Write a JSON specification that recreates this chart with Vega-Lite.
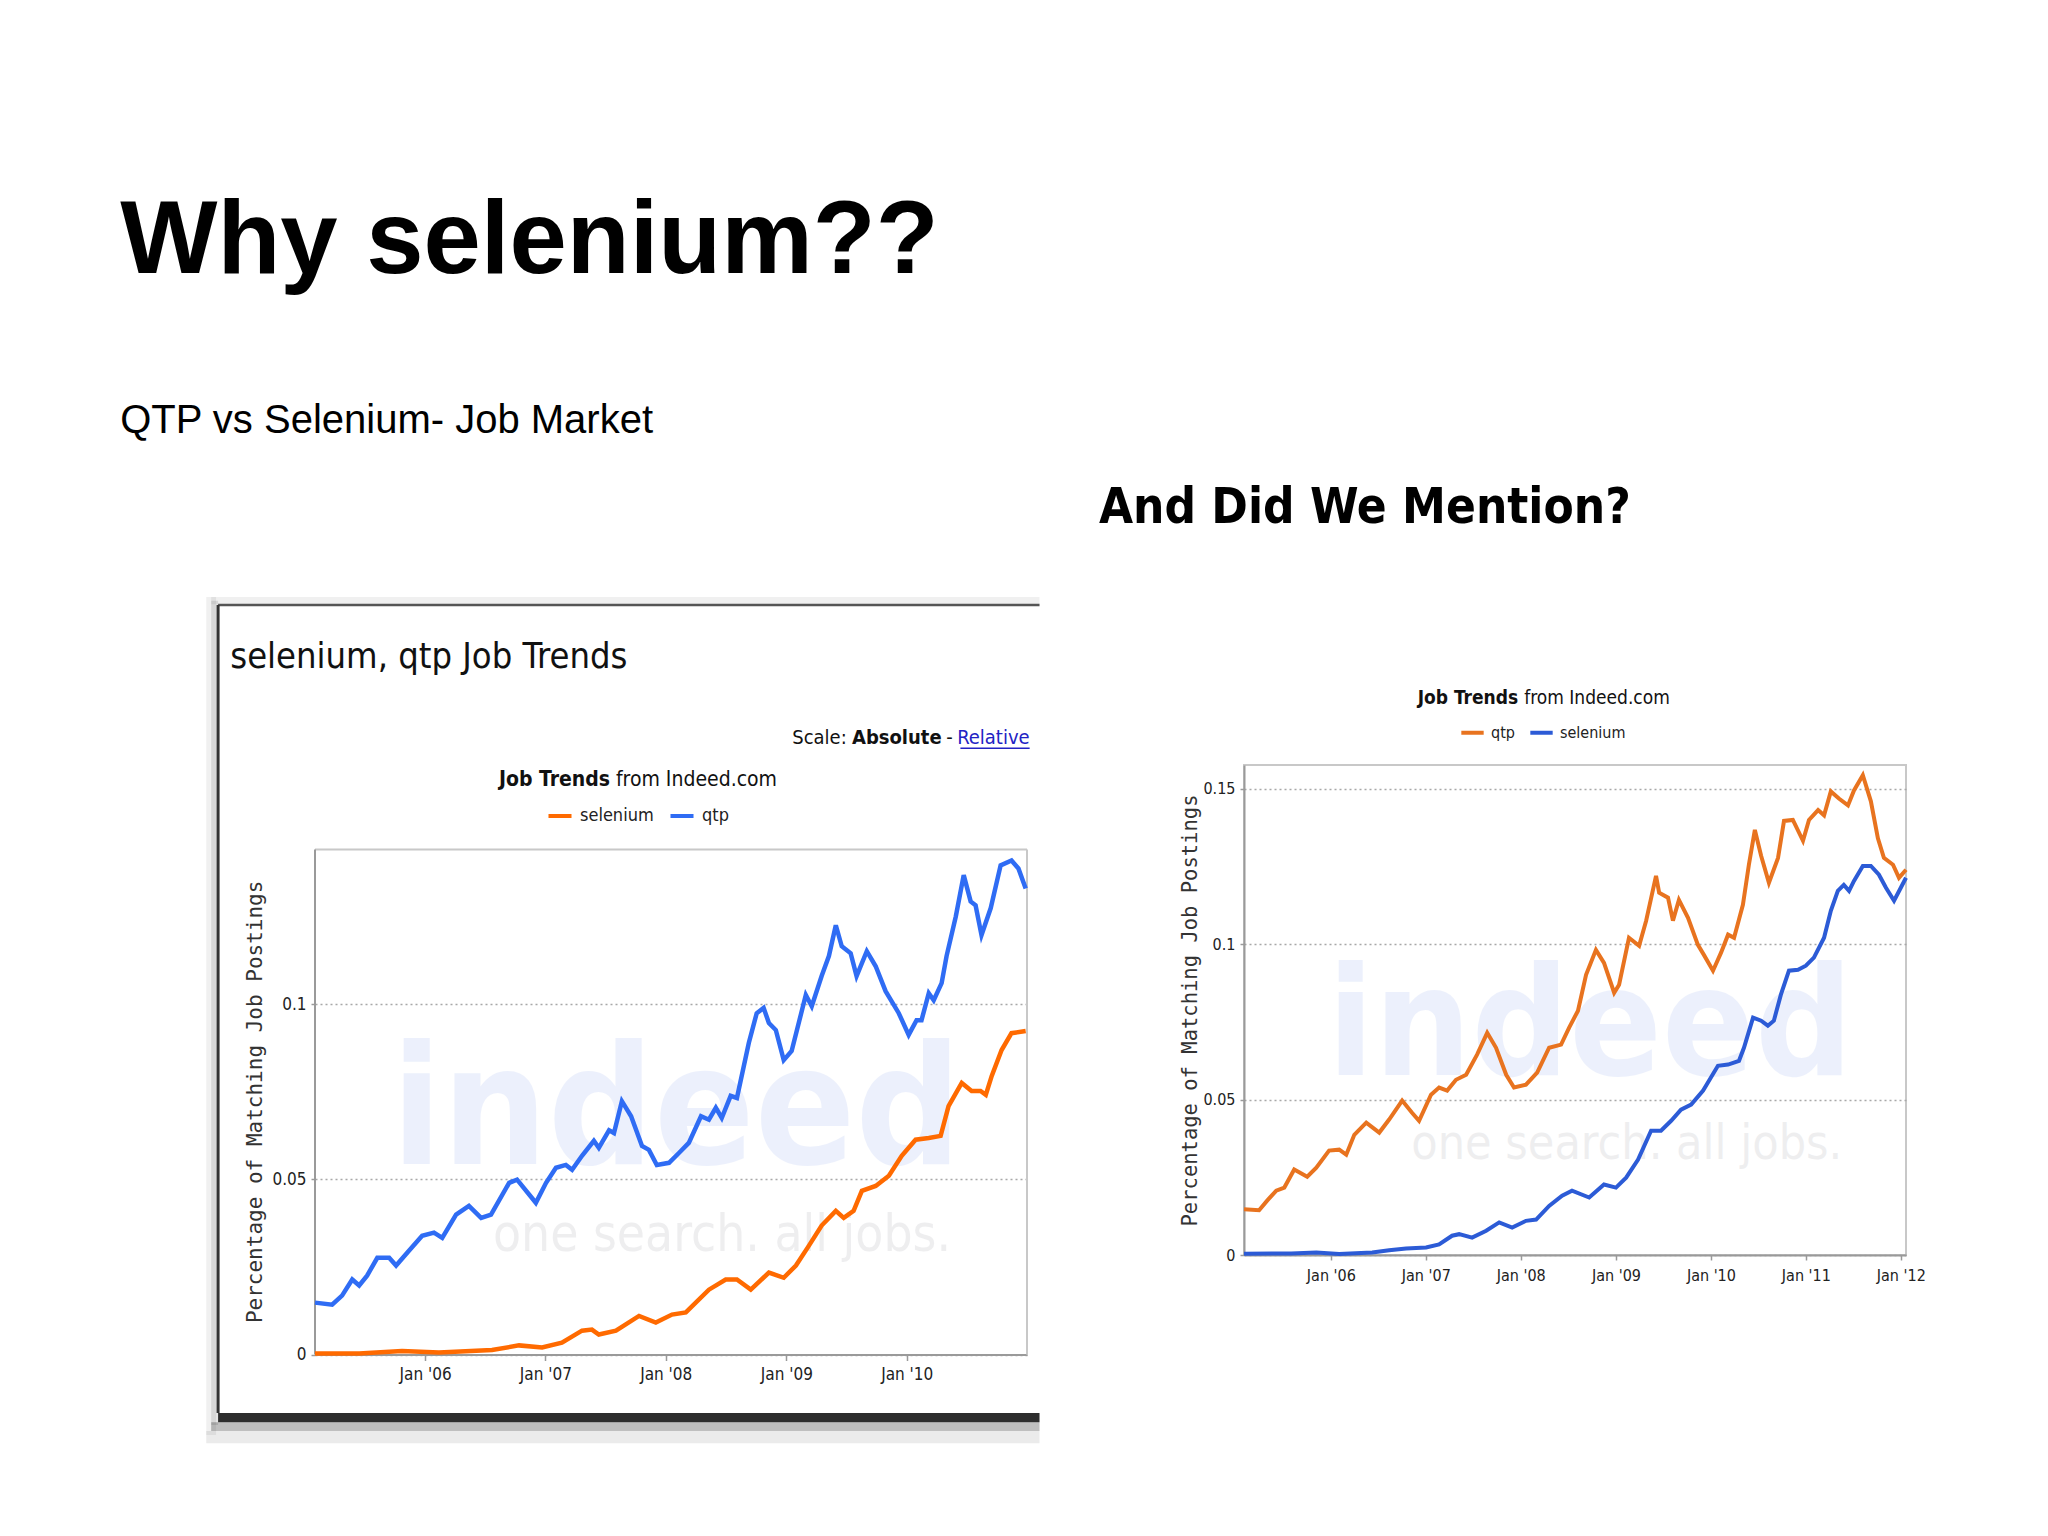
{
  "$schema": "https://vega.github.io/schema/vega-lite/v6.json",
  "background": "white",
  "padding": {"left": 120, "top": 191, "right": 0, "bottom": 0},
  "title": {
    "text": "Why selenium??",
    "subtitle": "QTP vs Selenium- Job Market",
    "anchor": "start",
    "frame": "bounds",
    "font": "Liberation Sans",
    "fontWeight": "bold",
    "fontSize": 103,
    "color": "#000000",
    "subtitleFont": "Liberation Sans",
    "subtitleFontSize": 40,
    "subtitleColor": "#000000",
    "subtitlePadding": 106,
    "offset": 41,
    "dx": -86
  },
  "datasets": {
    "leftData": [
      {"date": "2005-02-01", "series": "qtp", "value": 0.0148},
      {"date": "2005-03-25", "series": "qtp", "value": 0.0142},
      {"date": "2005-04-24", "series": "qtp", "value": 0.0168},
      {"date": "2005-05-25", "series": "qtp", "value": 0.0214},
      {"date": "2005-06-15", "series": "qtp", "value": 0.0197},
      {"date": "2005-07-09", "series": "qtp", "value": 0.0225},
      {"date": "2005-08-09", "series": "qtp", "value": 0.0276},
      {"date": "2005-09-14", "series": "qtp", "value": 0.0276},
      {"date": "2005-10-05", "series": "qtp", "value": 0.0254},
      {"date": "2005-11-13", "series": "qtp", "value": 0.0296},
      {"date": "2005-12-23", "series": "qtp", "value": 0.0339},
      {"date": "2006-01-28", "series": "qtp", "value": 0.0348},
      {"date": "2006-02-22", "series": "qtp", "value": 0.0333},
      {"date": "2006-04-05", "series": "qtp", "value": 0.0399},
      {"date": "2006-05-14", "series": "qtp", "value": 0.0424},
      {"date": "2006-06-20", "series": "qtp", "value": 0.039},
      {"date": "2006-07-20", "series": "qtp", "value": 0.0399},
      {"date": "2006-09-13", "series": "qtp", "value": 0.049},
      {"date": "2006-10-07", "series": "qtp", "value": 0.0499},
      {"date": "2006-12-03", "series": "qtp", "value": 0.0433},
      {"date": "2007-01-03", "series": "qtp", "value": 0.049},
      {"date": "2007-02-02", "series": "qtp", "value": 0.0533},
      {"date": "2007-03-04", "series": "qtp", "value": 0.0541},
      {"date": "2007-03-23", "series": "qtp", "value": 0.0527},
      {"date": "2007-04-22", "series": "qtp", "value": 0.0567},
      {"date": "2007-05-28", "series": "qtp", "value": 0.061},
      {"date": "2007-06-12", "series": "qtp", "value": 0.059},
      {"date": "2007-07-13", "series": "qtp", "value": 0.064},
      {"date": "2007-07-28", "series": "qtp", "value": 0.0632},
      {"date": "2007-08-21", "series": "qtp", "value": 0.0723},
      {"date": "2007-09-18", "series": "qtp", "value": 0.068},
      {"date": "2007-10-21", "series": "qtp", "value": 0.0595},
      {"date": "2007-11-11", "series": "qtp", "value": 0.0584},
      {"date": "2007-12-05", "series": "qtp", "value": 0.0541},
      {"date": "2008-01-11", "series": "qtp", "value": 0.0547},
      {"date": "2008-02-10", "series": "qtp", "value": 0.0575},
      {"date": "2008-03-11", "series": "qtp", "value": 0.0604},
      {"date": "2008-04-17", "series": "qtp", "value": 0.068},
      {"date": "2008-05-11", "series": "qtp", "value": 0.067},
      {"date": "2008-06-01", "series": "qtp", "value": 0.0704},
      {"date": "2008-06-19", "series": "qtp", "value": 0.0675},
      {"date": "2008-07-16", "series": "qtp", "value": 0.0738},
      {"date": "2008-08-04", "series": "qtp", "value": 0.0732},
      {"date": "2008-09-09", "series": "qtp", "value": 0.0889},
      {"date": "2008-10-03", "series": "qtp", "value": 0.0974},
      {"date": "2008-10-24", "series": "qtp", "value": 0.0989},
      {"date": "2008-11-09", "series": "qtp", "value": 0.0946},
      {"date": "2008-11-30", "series": "qtp", "value": 0.0926},
      {"date": "2008-12-24", "series": "qtp", "value": 0.084},
      {"date": "2009-01-17", "series": "qtp", "value": 0.0866},
      {"date": "2009-03-01", "series": "qtp", "value": 0.1026},
      {"date": "2009-03-19", "series": "qtp", "value": 0.0994},
      {"date": "2009-04-18", "series": "qtp", "value": 0.108},
      {"date": "2009-05-10", "series": "qtp", "value": 0.1137},
      {"date": "2009-05-31", "series": "qtp", "value": 0.1225},
      {"date": "2009-06-18", "series": "qtp", "value": 0.1165},
      {"date": "2009-07-15", "series": "qtp", "value": 0.1145},
      {"date": "2009-08-02", "series": "qtp", "value": 0.108},
      {"date": "2009-09-02", "series": "qtp", "value": 0.1151},
      {"date": "2009-09-29", "series": "qtp", "value": 0.1108},
      {"date": "2009-10-29", "series": "qtp", "value": 0.1037},
      {"date": "2009-12-08", "series": "qtp", "value": 0.0974},
      {"date": "2010-01-07", "series": "qtp", "value": 0.0912},
      {"date": "2010-01-31", "series": "qtp", "value": 0.0954},
      {"date": "2010-02-15", "series": "qtp", "value": 0.0954},
      {"date": "2010-03-09", "series": "qtp", "value": 0.1031},
      {"date": "2010-03-24", "series": "qtp", "value": 0.1011},
      {"date": "2010-04-17", "series": "qtp", "value": 0.106},
      {"date": "2010-05-02", "series": "qtp", "value": 0.1137},
      {"date": "2010-05-30", "series": "qtp", "value": 0.125},
      {"date": "2010-06-23", "series": "qtp", "value": 0.1368},
      {"date": "2010-07-14", "series": "qtp", "value": 0.1293},
      {"date": "2010-07-29", "series": "qtp", "value": 0.1282},
      {"date": "2010-08-16", "series": "qtp", "value": 0.1197},
      {"date": "2010-09-13", "series": "qtp", "value": 0.1274},
      {"date": "2010-10-13", "series": "qtp", "value": 0.1396},
      {"date": "2010-11-15", "series": "qtp", "value": 0.141},
      {"date": "2010-12-06", "series": "qtp", "value": 0.1387},
      {"date": "2010-12-28", "series": "qtp", "value": 0.133},
      {"date": "2005-02-01", "series": "selenium", "value": 0.0003},
      {"date": "2005-06-15", "series": "selenium", "value": 0.0003},
      {"date": "2005-10-23", "series": "selenium", "value": 0.001},
      {"date": "2006-02-12", "series": "selenium", "value": 0.0006},
      {"date": "2006-07-23", "series": "selenium", "value": 0.0013},
      {"date": "2006-10-13", "series": "selenium", "value": 0.0026},
      {"date": "2006-12-22", "series": "selenium", "value": 0.002},
      {"date": "2007-02-20", "series": "selenium", "value": 0.0034},
      {"date": "2007-04-22", "series": "selenium", "value": 0.0068},
      {"date": "2007-05-22", "series": "selenium", "value": 0.0071},
      {"date": "2007-06-12", "series": "selenium", "value": 0.0057},
      {"date": "2007-08-03", "series": "selenium", "value": 0.0068},
      {"date": "2007-10-12", "series": "selenium", "value": 0.011},
      {"date": "2007-12-02", "series": "selenium", "value": 0.0091},
      {"date": "2008-01-20", "series": "selenium", "value": 0.0114},
      {"date": "2008-03-02", "series": "selenium", "value": 0.012},
      {"date": "2008-05-11", "series": "selenium", "value": 0.0185},
      {"date": "2008-07-01", "series": "selenium", "value": 0.0214},
      {"date": "2008-08-04", "series": "selenium", "value": 0.0214},
      {"date": "2008-09-15", "series": "selenium", "value": 0.0185},
      {"date": "2008-11-09", "series": "selenium", "value": 0.0234},
      {"date": "2008-12-24", "series": "selenium", "value": 0.0219},
      {"date": "2009-01-30", "series": "selenium", "value": 0.0254},
      {"date": "2009-03-10", "series": "selenium", "value": 0.031},
      {"date": "2009-04-18", "series": "selenium", "value": 0.0368},
      {"date": "2009-05-31", "series": "selenium", "value": 0.041},
      {"date": "2009-06-24", "series": "selenium", "value": 0.039},
      {"date": "2009-07-24", "series": "selenium", "value": 0.041},
      {"date": "2009-08-18", "series": "selenium", "value": 0.0467},
      {"date": "2009-09-29", "series": "selenium", "value": 0.0481},
      {"date": "2009-11-08", "series": "selenium", "value": 0.051},
      {"date": "2009-12-17", "series": "selenium", "value": 0.0567},
      {"date": "2010-01-28", "series": "selenium", "value": 0.0613},
      {"date": "2010-03-09", "series": "selenium", "value": 0.0618},
      {"date": "2010-04-14", "series": "selenium", "value": 0.0624},
      {"date": "2010-05-08", "series": "selenium", "value": 0.0709},
      {"date": "2010-06-17", "series": "selenium", "value": 0.0775},
      {"date": "2010-07-17", "series": "selenium", "value": 0.0752},
      {"date": "2010-08-13", "series": "selenium", "value": 0.0752},
      {"date": "2010-08-29", "series": "selenium", "value": 0.0741},
      {"date": "2010-09-16", "series": "selenium", "value": 0.0795},
      {"date": "2010-10-16", "series": "selenium", "value": 0.0869},
      {"date": "2010-11-15", "series": "selenium", "value": 0.0917},
      {"date": "2010-12-28", "series": "selenium", "value": 0.0923}
    ],
    "rightData": [
      {"date": "2005-02-01", "series": "qtp", "value": 0.0147},
      {"date": "2005-03-31", "series": "qtp", "value": 0.0144},
      {"date": "2005-05-01", "series": "qtp", "value": 0.0175},
      {"date": "2005-06-05", "series": "qtp", "value": 0.0207},
      {"date": "2005-07-06", "series": "qtp", "value": 0.0217},
      {"date": "2005-08-13", "series": "qtp", "value": 0.0275},
      {"date": "2005-10-02", "series": "qtp", "value": 0.0252},
      {"date": "2005-11-06", "series": "qtp", "value": 0.0281},
      {"date": "2005-12-25", "series": "qtp", "value": 0.0336},
      {"date": "2006-02-02", "series": "qtp", "value": 0.0339},
      {"date": "2006-03-01", "series": "qtp", "value": 0.0323},
      {"date": "2006-04-01", "series": "qtp", "value": 0.0387},
      {"date": "2006-05-17", "series": "qtp", "value": 0.0426},
      {"date": "2006-07-06", "series": "qtp", "value": 0.0394},
      {"date": "2006-08-13", "series": "qtp", "value": 0.0436},
      {"date": "2006-10-02", "series": "qtp", "value": 0.0497},
      {"date": "2006-11-09", "series": "qtp", "value": 0.0458},
      {"date": "2006-12-06", "series": "qtp", "value": 0.0432},
      {"date": "2007-01-21", "series": "qtp", "value": 0.0516},
      {"date": "2007-02-21", "series": "qtp", "value": 0.0539},
      {"date": "2007-03-24", "series": "qtp", "value": 0.0529},
      {"date": "2007-04-27", "series": "qtp", "value": 0.0564},
      {"date": "2007-06-05", "series": "qtp", "value": 0.058},
      {"date": "2007-07-17", "series": "qtp", "value": 0.0645},
      {"date": "2007-08-25", "series": "qtp", "value": 0.0715},
      {"date": "2007-09-28", "series": "qtp", "value": 0.0667},
      {"date": "2007-11-06", "series": "qtp", "value": 0.058},
      {"date": "2007-12-06", "series": "qtp", "value": 0.0539},
      {"date": "2008-01-21", "series": "qtp", "value": 0.0548},
      {"date": "2008-03-04", "series": "qtp", "value": 0.0587},
      {"date": "2008-04-19", "series": "qtp", "value": 0.0667},
      {"date": "2008-06-04", "series": "qtp", "value": 0.0677},
      {"date": "2008-07-05", "series": "qtp", "value": 0.0732},
      {"date": "2008-08-08", "series": "qtp", "value": 0.0786},
      {"date": "2008-09-08", "series": "qtp", "value": 0.0902},
      {"date": "2008-10-16", "series": "qtp", "value": 0.0982},
      {"date": "2008-11-16", "series": "qtp", "value": 0.094},
      {"date": "2008-12-25", "series": "qtp", "value": 0.0844},
      {"date": "2009-01-13", "series": "qtp", "value": 0.087},
      {"date": "2009-02-20", "series": "qtp", "value": 0.1021},
      {"date": "2009-03-31", "series": "qtp", "value": 0.0995},
      {"date": "2009-04-27", "series": "qtp", "value": 0.1076},
      {"date": "2009-06-04", "series": "qtp", "value": 0.122},
      {"date": "2009-06-16", "series": "qtp", "value": 0.1166},
      {"date": "2009-07-20", "series": "qtp", "value": 0.115},
      {"date": "2009-08-08", "series": "qtp", "value": 0.1076},
      {"date": "2009-08-31", "series": "qtp", "value": 0.1143},
      {"date": "2009-10-05", "series": "qtp", "value": 0.1085},
      {"date": "2009-11-12", "series": "qtp", "value": 0.0998},
      {"date": "2009-12-05", "series": "qtp", "value": 0.0966},
      {"date": "2010-01-09", "series": "qtp", "value": 0.0915},
      {"date": "2010-02-09", "series": "qtp", "value": 0.0973},
      {"date": "2010-03-08", "series": "qtp", "value": 0.1031},
      {"date": "2010-03-31", "series": "qtp", "value": 0.1021},
      {"date": "2010-05-04", "series": "qtp", "value": 0.1127},
      {"date": "2010-05-27", "series": "qtp", "value": 0.1256},
      {"date": "2010-06-19", "series": "qtp", "value": 0.1368},
      {"date": "2010-07-13", "series": "qtp", "value": 0.1285},
      {"date": "2010-08-12", "series": "qtp", "value": 0.1198},
      {"date": "2010-09-16", "series": "qtp", "value": 0.1278},
      {"date": "2010-10-09", "series": "qtp", "value": 0.1397},
      {"date": "2010-11-12", "series": "qtp", "value": 0.14},
      {"date": "2010-12-21", "series": "qtp", "value": 0.1333},
      {"date": "2011-01-13", "series": "qtp", "value": 0.14},
      {"date": "2011-02-17", "series": "qtp", "value": 0.1432},
      {"date": "2011-03-12", "series": "qtp", "value": 0.1415},
      {"date": "2011-04-07", "series": "qtp", "value": 0.1492},
      {"date": "2011-05-08", "series": "qtp", "value": 0.1469},
      {"date": "2011-06-12", "series": "qtp", "value": 0.1447},
      {"date": "2011-07-05", "series": "qtp", "value": 0.1495},
      {"date": "2011-08-08", "series": "qtp", "value": 0.1544},
      {"date": "2011-09-08", "series": "qtp", "value": 0.146},
      {"date": "2011-10-05", "series": "qtp", "value": 0.1341},
      {"date": "2011-10-28", "series": "qtp", "value": 0.1278},
      {"date": "2011-12-02", "series": "qtp", "value": 0.1256},
      {"date": "2011-12-25", "series": "qtp", "value": 0.1214},
      {"date": "2012-01-21", "series": "qtp", "value": 0.124},
      {"date": "2005-02-01", "series": "selenium", "value": 0.0004},
      {"date": "2005-08-01", "series": "selenium", "value": 0.0005},
      {"date": "2005-11-06", "series": "selenium", "value": 0.0008},
      {"date": "2006-02-02", "series": "selenium", "value": 0.0003},
      {"date": "2006-06-09", "series": "selenium", "value": 0.0008},
      {"date": "2006-08-13", "series": "selenium", "value": 0.0015},
      {"date": "2006-10-17", "series": "selenium", "value": 0.0021},
      {"date": "2007-01-02", "series": "selenium", "value": 0.0024},
      {"date": "2007-02-21", "series": "selenium", "value": 0.0034},
      {"date": "2007-04-12", "series": "selenium", "value": 0.0062},
      {"date": "2007-05-09", "series": "selenium", "value": 0.0067},
      {"date": "2007-06-28", "series": "selenium", "value": 0.0056},
      {"date": "2007-08-21", "series": "selenium", "value": 0.0078},
      {"date": "2007-10-10", "series": "selenium", "value": 0.0105},
      {"date": "2007-11-29", "series": "selenium", "value": 0.0088},
      {"date": "2008-01-21", "series": "selenium", "value": 0.011},
      {"date": "2008-02-29", "series": "selenium", "value": 0.0114},
      {"date": "2008-04-19", "series": "selenium", "value": 0.0158},
      {"date": "2008-06-08", "series": "selenium", "value": 0.0191},
      {"date": "2008-07-16", "series": "selenium", "value": 0.0207},
      {"date": "2008-09-20", "series": "selenium", "value": 0.0185},
      {"date": "2008-11-16", "series": "selenium", "value": 0.0227},
      {"date": "2009-01-01", "series": "selenium", "value": 0.0217},
      {"date": "2009-02-09", "series": "selenium", "value": 0.0249},
      {"date": "2009-03-27", "series": "selenium", "value": 0.0307},
      {"date": "2009-05-16", "series": "selenium", "value": 0.04},
      {"date": "2009-06-23", "series": "selenium", "value": 0.04},
      {"date": "2009-08-01", "series": "selenium", "value": 0.0432},
      {"date": "2009-09-08", "series": "selenium", "value": 0.0468},
      {"date": "2009-10-17", "series": "selenium", "value": 0.0484},
      {"date": "2009-12-02", "series": "selenium", "value": 0.0529},
      {"date": "2010-01-01", "series": "selenium", "value": 0.0571},
      {"date": "2010-01-28", "series": "selenium", "value": 0.0609},
      {"date": "2010-03-08", "series": "selenium", "value": 0.0613},
      {"date": "2010-04-19", "series": "selenium", "value": 0.0625},
      {"date": "2010-05-08", "series": "selenium", "value": 0.0667},
      {"date": "2010-06-12", "series": "selenium", "value": 0.0764},
      {"date": "2010-07-13", "series": "selenium", "value": 0.0754},
      {"date": "2010-08-08", "series": "selenium", "value": 0.0738},
      {"date": "2010-08-31", "series": "selenium", "value": 0.0754},
      {"date": "2010-09-27", "series": "selenium", "value": 0.0838},
      {"date": "2010-10-28", "series": "selenium", "value": 0.0915},
      {"date": "2010-12-02", "series": "selenium", "value": 0.0918},
      {"date": "2011-01-01", "series": "selenium", "value": 0.0931},
      {"date": "2011-02-01", "series": "selenium", "value": 0.0957},
      {"date": "2011-03-12", "series": "selenium", "value": 0.1021},
      {"date": "2011-04-07", "series": "selenium", "value": 0.1108},
      {"date": "2011-05-04", "series": "selenium", "value": 0.1172},
      {"date": "2011-05-27", "series": "selenium", "value": 0.1191},
      {"date": "2011-06-16", "series": "selenium", "value": 0.1172},
      {"date": "2011-07-05", "series": "selenium", "value": 0.1204},
      {"date": "2011-08-08", "series": "selenium", "value": 0.1252},
      {"date": "2011-09-08", "series": "selenium", "value": 0.1252},
      {"date": "2011-10-09", "series": "selenium", "value": 0.1224},
      {"date": "2011-11-05", "series": "selenium", "value": 0.1182},
      {"date": "2011-12-06", "series": "selenium", "value": 0.114},
      {"date": "2012-01-01", "series": "selenium", "value": 0.1182},
      {"date": "2012-01-21", "series": "selenium", "value": 0.1214}
    ]
  },
  "spacing": 56,
  "resolve": {"scale": {"color": "independent", "x": "independent", "y": "independent"}},
  "hconcat": [
    {
      "width": 712,
      "height": 589.5,
      "view": {"stroke": null},
      "layer": [
        {"data": {"values": [{}]}, "mark": {"type": "rect", "fill": "#000000", "opacity": 0.06},
         "encoding": {
           "x": {"datum": {"year": 2004, "month": 3, "date": 8, "utc": true}, "type": "temporal", "scale": {"type": "utc", "domain": [{"year": 2005, "month": 2, "date": 1, "utc": true}, {"year": 2011, "month": 1, "date": 1, "utc": true}]},
                 "axis": {"title": null, "grid": false, "values": [{"year": 2006, "month": 1, "date": 1, "utc": true}, {"year": 2007, "month": 1, "date": 1, "utc": true}, {"year": 2008, "month": 1, "date": 1, "utc": true}, {"year": 2009, "month": 1, "date": 1, "utc": true}, {"year": 2010, "month": 1, "date": 1, "utc": true}],
                          "labelExpr": "utcFormat(datum.value, \"%b '%y\")", "tickSize": 6, "labelPadding": 6, "labelFontSize": 17}},
           "x2": {"datum": {"year": 2004, "month": 4, "date": 7, "utc": true}},
           "y": {"datum": 0.2162, "type": "quantitative", "scale": {"domain": [0, 0.168236], "nice": false},
                 "axis": {"title": null, "domain": false, "grid": true, "values": [0, 0.05, 0.1], "format": ".2~f", "tickSize": 4, "labelPadding": 5, "labelFontSize": 17}},
           "y2": {"datum": -0.0230}}},
        {"data": {"values": [{}]}, "mark": {"type": "rect", "fill": "#000000", "opacity": 0.06},
         "encoding": {
           "x": {"datum": {"year": 2004, "month": 3, "date": 23, "utc": true}, "type": "temporal", "scale": {"type": "utc", "domain": [{"year": 2005, "month": 2, "date": 1, "utc": true}, {"year": 2011, "month": 1, "date": 1, "utc": true}]}},
           "x2": {"datum": {"year": 2011, "month": 2, "date": 8, "utc": true}},
           "y": {"datum": 0.2162, "type": "quantitative", "scale": {"domain": [0, 0.168236], "nice": false}},
           "y2": {"datum": 0.2141}}},
        {"data": {"values": [{}]}, "mark": {"type": "rect", "fill": "#000000", "opacity": 0.1},
         "encoding": {
           "x": {"datum": {"year": 2004, "month": 3, "date": 23, "utc": true}, "type": "temporal", "scale": {"type": "utc", "domain": [{"year": 2005, "month": 2, "date": 1, "utc": true}, {"year": 2011, "month": 1, "date": 1, "utc": true}]}},
           "x2": {"datum": {"year": 2004, "month": 4, "date": 13, "utc": true}},
           "y": {"datum": 0.2151, "type": "quantitative", "scale": {"domain": [0, 0.168236], "nice": false}},
           "y2": {"datum": -0.0201}}},
        {"data": {"values": [{}]}, "mark": {"type": "rect", "fill": "#2e2e2e"},
         "encoding": {
           "x": {"datum": {"year": 2004, "month": 4, "date": 13, "utc": true}, "type": "temporal", "scale": {"type": "utc", "domain": [{"year": 2005, "month": 2, "date": 1, "utc": true}, {"year": 2011, "month": 1, "date": 1, "utc": true}]}},
           "x2": {"datum": {"year": 2011, "month": 2, "date": 8, "utc": true}},
           "y": {"datum": -0.0167, "type": "quantitative", "scale": {"domain": [0, 0.168236], "nice": false}},
           "y2": {"datum": -0.0193}}},
        {"data": {"values": [{}]}, "mark": {"type": "rect", "fill": "#000000", "opacity": 0.25},
         "encoding": {
           "x": {"datum": {"year": 2004, "month": 3, "date": 23, "utc": true}, "type": "temporal", "scale": {"type": "utc", "domain": [{"year": 2005, "month": 2, "date": 1, "utc": true}, {"year": 2011, "month": 1, "date": 1, "utc": true}]}},
           "x2": {"datum": {"year": 2011, "month": 2, "date": 8, "utc": true}},
           "y": {"datum": -0.0193, "type": "quantitative", "scale": {"domain": [0, 0.168236], "nice": false}},
           "y2": {"datum": -0.0218}}},
        {"data": {"values": [{}]}, "mark": {"type": "rect", "fill": "#000000", "opacity": 0.08},
         "encoding": {
           "x": {"datum": {"year": 2004, "month": 3, "date": 8, "utc": true}, "type": "temporal", "scale": {"type": "utc", "domain": [{"year": 2005, "month": 2, "date": 1, "utc": true}, {"year": 2011, "month": 1, "date": 1, "utc": true}]}},
           "x2": {"datum": {"year": 2011, "month": 2, "date": 8, "utc": true}},
           "y": {"datum": -0.0218, "type": "quantitative", "scale": {"domain": [0, 0.168236], "nice": false}},
           "y2": {"datum": -0.0253}}},
        {"data": {"values": [{}]}, "mark": {"type": "rule", "stroke": "#555555", "strokeWidth": 2.5},
         "encoding": {
           "x": {"datum": {"year": 2004, "month": 4, "date": 13, "utc": true}, "type": "temporal", "scale": {"type": "utc", "domain": [{"year": 2005, "month": 2, "date": 1, "utc": true}, {"year": 2011, "month": 1, "date": 1, "utc": true}]}},
           "x2": {"datum": {"year": 2011, "month": 2, "date": 8, "utc": true}},
           "y": {"datum": 0.2139, "type": "quantitative", "scale": {"domain": [0, 0.168236], "nice": false}}}},
        {"data": {"values": [{}]}, "mark": {"type": "rule", "stroke": "#333333", "strokeWidth": 3},
         "encoding": {
           "x": {"datum": {"year": 2004, "month": 4, "date": 13, "utc": true}, "type": "temporal", "scale": {"type": "utc", "domain": [{"year": 2005, "month": 2, "date": 1, "utc": true}, {"year": 2011, "month": 1, "date": 1, "utc": true}]}},
           "y": {"datum": 0.2139, "type": "quantitative", "scale": {"domain": [0, 0.168236], "nice": false}},
           "y2": {"datum": -0.0167}}},
        {"data": {"values": [{}]}, "mark": {"type": "rule", "stroke": "#c8c8c8", "strokeWidth": 2},
         "encoding": {
           "x": {"datum": {"year": 2005, "month": 2, "date": 1, "utc": true}, "type": "temporal", "scale": {"type": "utc", "domain": [{"year": 2005, "month": 2, "date": 1, "utc": true}, {"year": 2011, "month": 1, "date": 1, "utc": true}]}},
           "x2": {"datum": {"year": 2011, "month": 1, "date": 1, "utc": true}},
           "y": {"datum": 0.1441, "type": "quantitative", "scale": {"domain": [0, 0.168236], "nice": false}}}},
        {"data": {"values": [{}]}, "mark": {"type": "rule", "stroke": "#c8c8c8", "strokeWidth": 2},
         "encoding": {
           "x": {"datum": {"year": 2011, "month": 1, "date": 1, "utc": true}, "type": "temporal", "scale": {"type": "utc", "domain": [{"year": 2005, "month": 2, "date": 1, "utc": true}, {"year": 2011, "month": 1, "date": 1, "utc": true}]}},
           "y": {"datum": 0.1441, "type": "quantitative", "scale": {"domain": [0, 0.168236], "nice": false}},
           "y2": {"datum": 0}}},
        {"data": {"values": [{}]}, "mark": {"type": "rule", "stroke": "#9a9a9a", "strokeWidth": 2},
         "encoding": {
           "x": {"datum": {"year": 2005, "month": 2, "date": 1, "utc": true}, "type": "temporal", "scale": {"type": "utc", "domain": [{"year": 2005, "month": 2, "date": 1, "utc": true}, {"year": 2011, "month": 1, "date": 1, "utc": true}]}},
           "y": {"datum": 0.1441, "type": "quantitative", "scale": {"domain": [0, 0.168236], "nice": false}},
           "y2": {"datum": 0}}},
        {"data": {"values": [{"t": "Percentage of Matching Job Postings"}]}, "mark": {"type": "text", "font": "DejaVu Sans Mono", "fontSize": 21, "fill": "#333333", "angle": 270, "align": "center", "baseline": "middle"},
         "encoding": {
           "text": {"field": "t"},
           "x": {"datum": {"year": 2004, "month": 8, "date": 7, "utc": true}, "type": "temporal", "scale": {"type": "utc", "domain": [{"year": 2005, "month": 2, "date": 1, "utc": true}, {"year": 2011, "month": 1, "date": 1, "utc": true}]}},
           "y": {"datum": 0.0721, "type": "quantitative", "scale": {"domain": [0, 0.168236], "nice": false}}}},
        {"data": {"values": [{"t": "indeed"}]}, "mark": {"type": "text", "font": "DejaVu Sans Condensed, sans-serif", "fontWeight": "bold", "fontSize": 165, "fill": "#5078e6", "opacity": 0.1, "align": "left", "baseline": "alphabetic"},
         "encoding": {
           "text": {"field": "t"},
           "x": {"datum": {"year": 2005, "month": 9, "date": 20, "utc": true}, "type": "temporal", "scale": {"type": "utc", "domain": [{"year": 2005, "month": 2, "date": 1, "utc": true}, {"year": 2011, "month": 1, "date": 1, "utc": true}]}},
           "y": {"datum": 0.0545, "type": "quantitative", "scale": {"domain": [0, 0.168236], "nice": false}}}},
        {"data": {"values": [{"t": "one search. all jobs."}]}, "mark": {"type": "text", "font": "DejaVu Sans Condensed, sans-serif", "fontSize": 51, "fill": "#606070", "opacity": 0.1, "align": "left", "baseline": "alphabetic"},
         "encoding": {
           "text": {"field": "t"},
           "x": {"datum": {"year": 2006, "month": 7, "date": 26, "utc": true}, "type": "temporal", "scale": {"type": "utc", "domain": [{"year": 2005, "month": 2, "date": 1, "utc": true}, {"year": 2011, "month": 1, "date": 1, "utc": true}]}},
           "y": {"datum": 0.0295, "type": "quantitative", "scale": {"domain": [0, 0.168236], "nice": false}}}},
        {"data": {"values": [{"t": "selenium, qtp Job Trends"}]}, "mark": {"type": "text", "font": "DejaVu Sans Condensed, sans-serif", "fontSize": 36, "fill": "#111111", "align": "left", "baseline": "alphabetic"},
         "encoding": {
           "text": {"field": "t"},
           "x": {"datum": {"year": 2004, "month": 5, "date": 20, "utc": true}, "type": "temporal", "scale": {"type": "utc", "domain": [{"year": 2005, "month": 2, "date": 1, "utc": true}, {"year": 2011, "month": 1, "date": 1, "utc": true}]}},
           "y": {"datum": 0.1959, "type": "quantitative", "scale": {"domain": [0, 0.168236], "nice": false}}}},
        {"data": {"values": [{"t": "Scale:"}]}, "mark": {"type": "text", "font": "DejaVu Sans Condensed, sans-serif", "fontSize": 20, "fill": "#111111", "align": "right", "baseline": "alphabetic"},
         "encoding": {
           "text": {"field": "t"},
           "x": {"datum": {"year": 2009, "month": 7, "date": 3, "utc": true}, "type": "temporal", "scale": {"type": "utc", "domain": [{"year": 2005, "month": 2, "date": 1, "utc": true}, {"year": 2011, "month": 1, "date": 1, "utc": true}]}},
           "y": {"datum": 0.1743, "type": "quantitative", "scale": {"domain": [0, 0.168236], "nice": false}}}},
        {"data": {"values": [{"t": "Absolute"}]}, "mark": {"type": "text", "font": "DejaVu Sans Condensed, sans-serif", "fontWeight": "bold", "fontSize": 20, "fill": "#111111", "align": "right", "baseline": "alphabetic"},
         "encoding": {
           "text": {"field": "t"},
           "x": {"datum": {"year": 2010, "month": 4, "date": 17, "utc": true}, "type": "temporal", "scale": {"type": "utc", "domain": [{"year": 2005, "month": 2, "date": 1, "utc": true}, {"year": 2011, "month": 1, "date": 1, "utc": true}]}},
           "y": {"datum": 0.1743, "type": "quantitative", "scale": {"domain": [0, 0.168236], "nice": false}}}},
        {"data": {"values": [{"t": "-"}]}, "mark": {"type": "text", "font": "DejaVu Sans Condensed, sans-serif", "fontSize": 20, "fill": "#111111", "align": "center", "baseline": "alphabetic"},
         "encoding": {
           "text": {"field": "t"},
           "x": {"datum": {"year": 2010, "month": 5, "date": 11, "utc": true}, "type": "temporal", "scale": {"type": "utc", "domain": [{"year": 2005, "month": 2, "date": 1, "utc": true}, {"year": 2011, "month": 1, "date": 1, "utc": true}]}},
           "y": {"datum": 0.1743, "type": "quantitative", "scale": {"domain": [0, 0.168236], "nice": false}}}},
        {"data": {"values": [{"t": "Relative"}]}, "mark": {"type": "text", "font": "DejaVu Sans Condensed, sans-serif", "fontSize": 20, "fill": "#2222c4", "align": "right", "baseline": "alphabetic"},
         "encoding": {
           "text": {"field": "t"},
           "x": {"datum": {"year": 2011, "month": 1, "date": 9, "utc": true}, "type": "temporal", "scale": {"type": "utc", "domain": [{"year": 2005, "month": 2, "date": 1, "utc": true}, {"year": 2011, "month": 1, "date": 1, "utc": true}]}},
           "y": {"datum": 0.1743, "type": "quantitative", "scale": {"domain": [0, 0.168236], "nice": false}}}},
        {"data": {"values": [{}]}, "mark": {"type": "rule", "stroke": "#2222c4", "strokeWidth": 1.5},
         "encoding": {
           "x": {"datum": {"year": 2010, "month": 6, "date": 13, "utc": true}, "type": "temporal", "scale": {"type": "utc", "domain": [{"year": 2005, "month": 2, "date": 1, "utc": true}, {"year": 2011, "month": 1, "date": 1, "utc": true}]}},
           "x2": {"datum": {"year": 2011, "month": 1, "date": 9, "utc": true}},
           "y": {"datum": 0.1730, "type": "quantitative", "scale": {"domain": [0, 0.168236], "nice": false}}}},
        {"data": {"values": [{"t": "Job Trends"}]}, "mark": {"type": "text", "font": "DejaVu Sans Condensed, sans-serif", "fontWeight": "bold", "fontSize": 21, "fill": "#111111", "align": "right", "baseline": "alphabetic"},
         "encoding": {
           "text": {"field": "t"},
           "x": {"datum": {"year": 2007, "month": 7, "date": 16, "utc": true}, "type": "temporal", "scale": {"type": "utc", "domain": [{"year": 2005, "month": 2, "date": 1, "utc": true}, {"year": 2011, "month": 1, "date": 1, "utc": true}]}},
           "y": {"datum": 0.1623, "type": "quantitative", "scale": {"domain": [0, 0.168236], "nice": false}}}},
        {"data": {"values": [{"t": "from Indeed.com"}]}, "mark": {"type": "text", "font": "DejaVu Sans Condensed, sans-serif", "fontSize": 21, "fill": "#111111", "align": "left", "baseline": "alphabetic"},
         "encoding": {
           "text": {"field": "t"},
           "x": {"datum": {"year": 2007, "month": 8, "date": 3, "utc": true}, "type": "temporal", "scale": {"type": "utc", "domain": [{"year": 2005, "month": 2, "date": 1, "utc": true}, {"year": 2011, "month": 1, "date": 1, "utc": true}]}},
           "y": {"datum": 0.1623, "type": "quantitative", "scale": {"domain": [0, 0.168236], "nice": false}}}},
        {"data": {"name": "leftData"},
         "mark": {"type": "line", "strokeWidth": 4.5},
         "encoding": {
           "x": {"field": "date", "type": "temporal", "scale": {"type": "utc", "domain": [{"year": 2005, "month": 2, "date": 1, "utc": true}, {"year": 2011, "month": 1, "date": 1, "utc": true}]},
                 "axis": {"title": null, "grid": false, "values": [{"year": 2006, "month": 1, "date": 1, "utc": true}, {"year": 2007, "month": 1, "date": 1, "utc": true}, {"year": 2008, "month": 1, "date": 1, "utc": true}, {"year": 2009, "month": 1, "date": 1, "utc": true}, {"year": 2010, "month": 1, "date": 1, "utc": true}],
                          "labelExpr": "utcFormat(datum.value, \"%b '%y\")", "tickSize": 6, "labelPadding": 6, "labelFontSize": 17}},
           "y": {"field": "value", "type": "quantitative", "scale": {"domain": [0, 0.168236], "nice": false},
                 "axis": {"title": null, "domain": false, "grid": true, "values": [0, 0.05, 0.1], "format": ".2~f", "tickSize": 4, "labelPadding": 5, "labelFontSize": 17}},
           "color": {"field": "series", "type": "nominal", "scale": {"domain": ["selenium", "qtp"], "range": ["#ff6a00", "#2f6cf4"]},
                     "legend": {"orient": "none", "legendX": 231, "legendY": 37, "title": null, "direction": "horizontal", "symbolType": "stroke", "symbolStrokeWidth": 4, "symbolSize": 530, "labelFont": "DejaVu Sans Condensed, sans-serif", "labelFontSize": 18, "labelColor": "#222222", "labelOffset": 6, "columnPadding": 8}}
         }}
      ]
    },
    {
      "width": 662,
      "height": 490,
      "title": {"text": "And Did We Mention?", "anchor": "start", "frame": "bounds", "font": "DejaVu Sans Condensed, sans-serif", "fontWeight": "bold", "fontSize": 49, "color": "#000000", "offset": 156, "dx": -82},
      "layer": [
        {"data": {"values": [{"t": "indeed"}]}, "mark": {"type": "text", "font": "DejaVu Sans Condensed, sans-serif", "fontWeight": "bold", "fontSize": 152, "fill": "#5078e6", "opacity": 0.1, "align": "left", "baseline": "alphabetic"},
         "encoding": {
           "text": {"field": "t"},
           "x": {"datum": {"year": 2005, "month": 12, "date": 18, "utc": true}, "type": "temporal", "scale": {"type": "utc", "domain": [{"year": 2005, "month": 2, "date": 1, "utc": true}, {"year": 2012, "month": 1, "date": 21, "utc": true}]},
                 "axis": {"title": null, "grid": false, "values": [{"year": 2006, "month": 1, "date": 1, "utc": true}, {"year": 2007, "month": 1, "date": 1, "utc": true}, {"year": 2008, "month": 1, "date": 1, "utc": true}, {"year": 2009, "month": 1, "date": 1, "utc": true}, {"year": 2010, "month": 1, "date": 1, "utc": true}, {"year": 2011, "month": 1, "date": 1, "utc": true}, {"year": 2012, "month": 1, "date": 1, "utc": true}],
                          "labelExpr": "utcFormat(datum.value, \"%b '%y\")", "tickSize": 5, "labelPadding": 7, "labelFontSize": 16}},
           "y": {"datum": 0.0580, "type": "quantitative", "scale": {"domain": [0, 0.1577], "nice": false},
                 "axis": {"title": "Percentage of Matching Job Postings", "titleFontSize": 20.5, "titlePadding": 2, "grid": true, "values": [0, 0.05, 0.1, 0.15], "format": ".2~f", "tickSize": 4, "labelPadding": 5, "labelFontSize": 16}}}},
        {"data": {"values": [{"t": "one search. all jobs."}]}, "mark": {"type": "text", "font": "DejaVu Sans Condensed, sans-serif", "fontSize": 48, "fill": "#606070", "opacity": 0.1, "align": "left", "baseline": "alphabetic"},
         "encoding": {
           "text": {"field": "t"},
           "x": {"datum": {"year": 2006, "month": 11, "date": 6, "utc": true}, "type": "temporal", "scale": {"type": "utc", "domain": [{"year": 2005, "month": 2, "date": 1, "utc": true}, {"year": 2012, "month": 1, "date": 21, "utc": true}]}},
           "y": {"datum": 0.0310, "type": "quantitative", "scale": {"domain": [0, 0.1577], "nice": false}}}},
        {"data": {"values": [{"t": "Job Trends"}]}, "mark": {"type": "text", "font": "DejaVu Sans Condensed, sans-serif", "fontWeight": "bold", "fontSize": 19, "fill": "#111111", "align": "right", "baseline": "alphabetic"},
         "encoding": {
           "text": {"field": "t"},
           "x": {"datum": {"year": 2007, "month": 12, "date": 22, "utc": true}, "type": "temporal", "scale": {"type": "utc", "domain": [{"year": 2005, "month": 2, "date": 1, "utc": true}, {"year": 2012, "month": 1, "date": 21, "utc": true}]}},
           "y": {"datum": 0.1773, "type": "quantitative", "scale": {"domain": [0, 0.1577], "nice": false}}}},
        {"data": {"values": [{"t": "from Indeed.com"}]}, "mark": {"type": "text", "font": "DejaVu Sans Condensed, sans-serif", "fontSize": 19, "fill": "#111111", "align": "left", "baseline": "alphabetic"},
         "encoding": {
           "text": {"field": "t"},
           "x": {"datum": {"year": 2008, "month": 1, "date": 14, "utc": true}, "type": "temporal", "scale": {"type": "utc", "domain": [{"year": 2005, "month": 2, "date": 1, "utc": true}, {"year": 2012, "month": 1, "date": 21, "utc": true}]}},
           "y": {"datum": 0.1773, "type": "quantitative", "scale": {"domain": [0, 0.1577], "nice": false}}}},
        {"data": {"name": "rightData"},
         "mark": {"type": "line", "strokeWidth": 4},
         "encoding": {
           "x": {"field": "date", "type": "temporal", "scale": {"type": "utc", "domain": [{"year": 2005, "month": 2, "date": 1, "utc": true}, {"year": 2012, "month": 1, "date": 21, "utc": true}]},
                 "axis": {"title": null, "grid": false, "values": [{"year": 2006, "month": 1, "date": 1, "utc": true}, {"year": 2007, "month": 1, "date": 1, "utc": true}, {"year": 2008, "month": 1, "date": 1, "utc": true}, {"year": 2009, "month": 1, "date": 1, "utc": true}, {"year": 2010, "month": 1, "date": 1, "utc": true}, {"year": 2011, "month": 1, "date": 1, "utc": true}, {"year": 2012, "month": 1, "date": 1, "utc": true}],
                          "labelExpr": "utcFormat(datum.value, \"%b '%y\")", "tickSize": 5, "labelPadding": 7, "labelFontSize": 16}},
           "y": {"field": "value", "type": "quantitative", "scale": {"domain": [0, 0.1577], "nice": false},
                 "axis": {"title": "Percentage of Matching Job Postings", "titleFontSize": 20.5, "titlePadding": 2, "grid": true, "values": [0, 0.05, 0.1, 0.15], "format": ".2~f", "tickSize": 4, "labelPadding": 5, "labelFontSize": 16}},
           "color": {"field": "series", "type": "nominal", "scale": {"domain": ["qtp", "selenium"], "range": ["#e8731f", "#2c5bd6"]},
                     "legend": {"orient": "none", "legendX": 215, "legendY": -46, "title": null, "direction": "horizontal", "symbolType": "stroke", "symbolStrokeWidth": 4, "symbolSize": 500, "labelFont": "DejaVu Sans Condensed, sans-serif", "labelFontSize": 16, "labelColor": "#222222", "labelOffset": 5, "columnPadding": 7}}
         }}
      ]
    }
  ],
  "config": {
    "font": "Liberation Sans",
    "view": {"stroke": "#c8c8c8", "strokeWidth": 2},
    "axis": {"domainColor": "#9a9a9a", "domainWidth": 2, "tickColor": "#9a9a9a", "tickWidth": 1.5, "labelFont": "DejaVu Sans Condensed, sans-serif", "labelColor": "#222222", "titleFont": "DejaVu Sans Mono", "titleFontWeight": "normal", "titleColor": "#333333", "gridColor": "#a8a8a8", "gridDash": [2, 3], "gridWidth": 1.5, "labelOverlap": false, "labelFlush": false}
  }
}
